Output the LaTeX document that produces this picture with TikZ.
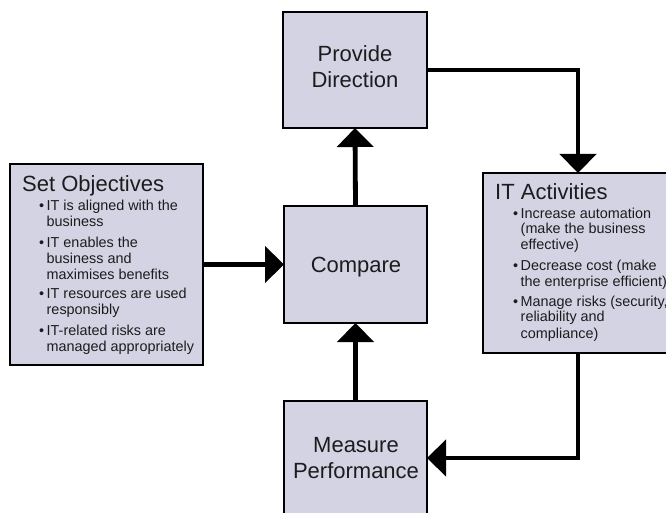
\documentclass[tikz,border=0pt]{standalone}
\usepackage{fontspec}
\setmainfont{Liberation Sans}
\usetikzlibrary{arrows.meta}
\definecolor{boxfill}{RGB}{212,211,228}
\definecolor{txt}{RGB}{28,28,28}
\newcommand\blt[1]{\hbox{\makebox[7.5pt][l]{•}#1}}
\newcommand\cnt[1]{\hbox{\hspace*{7.5pt}#1}}
\newcommand\gap{\vskip4pt}
\tikzset{
  box/.style={draw=black, line width=2pt, fill=boxfill, rectangle, inner sep=0pt, outer sep=0pt},
  bigtext/.style={font=\fontsize{22}{26}\selectfont, text=txt, inner sep=0pt, anchor=base},
  titletext/.style={font=\fontsize{22}{26}\selectfont, text=txt, inner sep=0pt, anchor=base west},
  listtext/.style={font=\fontsize{14.4}{16}\selectfont, text=txt, inner sep=0pt, anchor=base west},
  conn/.style={line width=4.8pt, draw=black, -{Triangle[length=19pt,width=36pt]}}
}
\begin{document}
\begin{tikzpicture}[x=1pt,y=-1pt]
\clip (0,0) rectangle (666,513);
\fill[white] (0,0) rectangle (666,513);
% boxes
\node[box, minimum width=144pt, minimum height=116pt] (pd) at (355,70) {};
\node[box, minimum width=193pt, minimum height=201pt] (so) at (106.5,264.5) {};
\node[box, minimum width=143pt, minimum height=117pt] (cmp) at (355.5,264.5) {};
\node[box, minimum width=190pt, minimum height=180pt] (ita) at (578,263) {};
\node[box, minimum width=143pt, minimum height=114pt] (mp) at (355.5,458) {};
% texts
\node[bigtext] (pd1) at (355,62) {Provide};
\node[bigtext] (pd2) at (355,88) {Direction};
\node[bigtext] (cmpt) at (356,272) {Compare};
\node[bigtext] (mp1) at (356,452) {Measure};
\node[bigtext] (mp2) at (356,478) {Performance};
\node[titletext] (sotitle) at (22,192) {Set Objectives};
\node[listtext] (solist) at (39,211) {\vtop{\baselineskip=16pt\lineskiplimit=-20pt
  \blt{IT is aligned with the}\cnt{business}\gap
  \blt{IT enables the}\cnt{business and}\cnt{maximises benefits}\gap
  \blt{IT resources are used}\cnt{responsibly}\gap
  \blt{IT-related risks are}\cnt{managed appropriately}}};
\node[titletext] (itatitle) at (495,199) {IT Activities};
\node[listtext] (italist) at (513,218) {\vtop{\baselineskip=16pt\lineskiplimit=-20pt
  \blt{Increase automation}\cnt{(make the business}\cnt{effective)}\gap
  \blt{Decrease cost (make}\cnt{the enterprise efficient)}\gap
  \blt{Manage risks (security,}\cnt{reliability and}\cnt{compliance)}}};
% connectors
\draw[conn] (so.east) -- (cmp.west);
\draw[conn] (cmp.north) -- (pd.south);
\draw[conn] (pd.east) -| (ita.north);
\draw[conn] (ita.south) |- (mp.east);
\draw[conn] (mp.north) -- (cmp.south);
\end{tikzpicture}
\end{document}
